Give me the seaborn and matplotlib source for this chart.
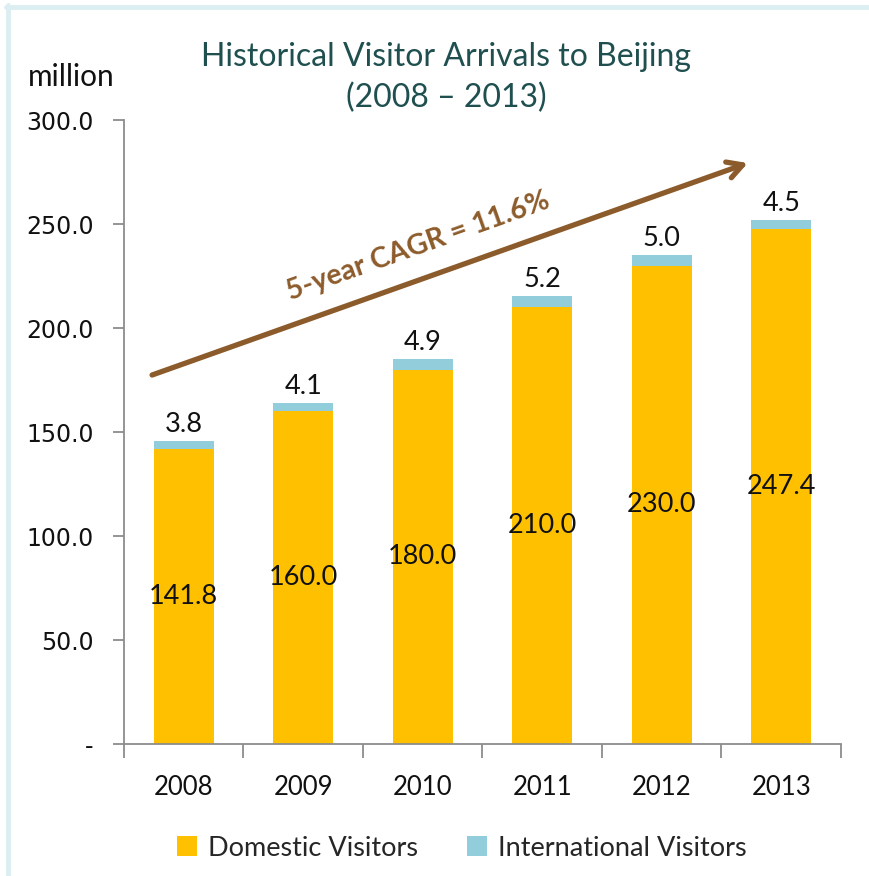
import matplotlib
matplotlib.use("Agg")
import matplotlib.pyplot as plt
from matplotlib.lines import Line2D
from matplotlib.patches import Patch
from matplotlib.ticker import FixedLocator, FuncFormatter
import pandas as pd
import seaborn as sns

years = ["2008", "2009", "2010", "2011", "2012", "2013"]
domestic = [141.8, 160.0, 180.0, 210.0, 230.0, 247.4]
international = [3.8, 4.1, 4.9, 5.2, 5.0, 4.5]
y_ticks = [0, 50, 100, 150, 200, 250, 300]

YELLOW = "#FFC000"
BLUE = "#92CDDC"
BROWN = "#8C5B2B"
TITLE = "#1F4F4F"
AXIS = "#8C8C8C"
FRAME = "#DCEEF1"
TEXT_FONT = ["Lato", "DejaVu Sans"]

sns.set_theme(style="white")
plt.rcParams["font.family"] = TEXT_FONT

df = pd.DataFrame({"year": years, "domestic": domestic, "international": international})
df["total"] = df["domestic"] + df["international"]

fig = plt.figure(figsize=(8.7, 8.76), dpi=100)
ax = fig.add_axes([124 / 870, 1 - 744 / 876, (841 - 124) / 870, (744 - 120) / 876])

# stacked bars: total drawn first in blue, domestic on top in yellow
sns.barplot(data=df, x="year", y="total", color=BLUE, width=0.5, saturation=1,
            linewidth=0, ax=ax)
sns.barplot(data=df, x="year", y="domestic", color=YELLOW, width=0.5, saturation=1,
            linewidth=0, ax=ax)

ax.set_xlim(-0.5, 5.5)
ax.set_ylim(0, 300)
ax.set_xlabel("")
ax.set_ylabel("")

for s in ["top", "right"]:
    ax.spines[s].set_visible(False)
for s in ["left", "bottom"]:
    ax.spines[s].set_color(AXIS)
    ax.spines[s].set_linewidth(1.3)

ax.yaxis.set_major_locator(FixedLocator(y_ticks))
ax.yaxis.set_major_formatter(FuncFormatter(lambda v, p: "-" if v == 0 else f"{v:.1f}"))
ax.tick_params(axis="y", left=True, direction="out", length=8, width=1.3, color=AXIS,
               labelsize=17, pad=14, labelcolor="#111111")
for lbl in ax.get_yticklabels():
    lbl.set_family("DejaVu Sans")

ax.set_xticks(range(len(years)))
ax.set_xticklabels(years)
ax.set_xticks([i - 0.5 for i in range(len(years) + 1)], minor=True)
ax.tick_params(axis="x", which="major", bottom=False, length=0, labelsize=18.5, pad=22,
               labelcolor="#111111")
ax.tick_params(axis="x", which="minor", bottom=True, direction="out", length=10,
               width=1.3, color=AXIS)

# value labels
for i, (d, t, it) in enumerate(zip(df["domestic"], df["total"], df["international"])):
    ax.text(i, d / 2, f"{d:.1f}", ha="center", va="center", fontsize=19.5, color="#111111")
    ax.text(i, t + 2, f"{it:.1f}", ha="center", va="bottom", fontsize=19.5, color="#111111")

# growth arrow with CAGR annotation
ax.annotate("", xy=(4.72, 279.3), xytext=(-0.265, 177.4),
            arrowprops=dict(arrowstyle="->,head_length=0.9,head_width=0.5", color=BROWN,
                            lw=3.8, shrinkA=0, shrinkB=0))
ax.text(1.96, 239.5, "5-year CAGR = 11.6%", rotation=19.6, rotation_mode="anchor",
        ha="center", va="center", fontsize=20.5, fontweight="bold", color=BROWN)

fig.text(446 / 870, 1 - 57 / 876, "Historical Visitor Arrivals to Beijing", ha="center",
         va="center", fontsize=23, color=TITLE)
fig.text(446 / 870, 1 - 98 / 876, "(2008 \u2013 2013)", ha="center", va="center",
         fontsize=23, color=TITLE)
fig.text(71 / 870, 1 - 77 / 876, "million", ha="center", va="center", fontsize=21.5,
         color="#111111")

handles = [Patch(facecolor=YELLOW, edgecolor="none", label="Domestic Visitors"),
           Patch(facecolor=BLUE, edgecolor="none", label="International Visitors")]
fig.legend(handles=handles, loc="center", bbox_to_anchor=(462 / 870, 1 - 848 / 876),
           ncol=2, frameon=False, fontsize=19.5, handlelength=0.75, handleheight=0.75,
           handletextpad=0.4, columnspacing=1.8)

# light frame along the top and left edges
fig.lines.append(Line2D([6 / 870, 1], [1 - 6.5 / 876, 1 - 6.5 / 876],
                        transform=fig.transFigure, color=FRAME, lw=3.5))
fig.lines.append(Line2D([8 / 870, 8 / 870], [0, 1 - 5 / 876],
                        transform=fig.transFigure, color=FRAME, lw=3.5))

fig.savefig("out.png", dpi=100)
